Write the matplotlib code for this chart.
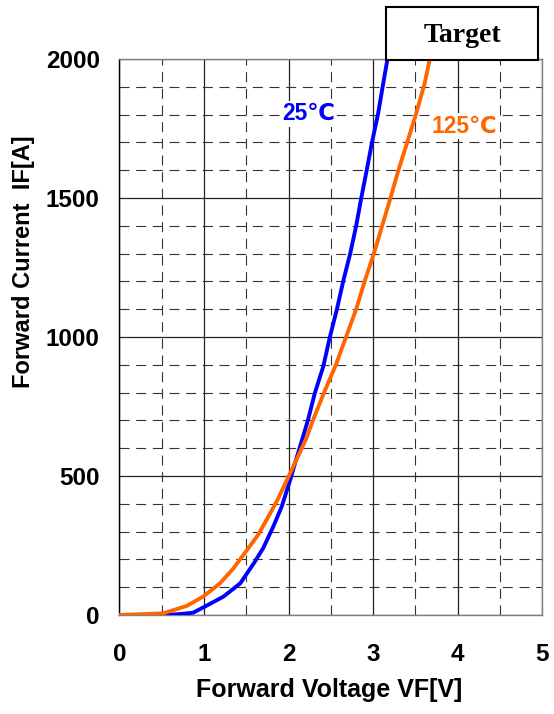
import numpy as np
import matplotlib
matplotlib.use("Agg")
import matplotlib.pyplot as plt
from matplotlib.ticker import MultipleLocator
from matplotlib.patches import Rectangle

plt.rcParams['font.family'] = ['Liberation Sans', 'DejaVu Sans']

# Forward characteristics
vf_25 = [0.0, 0.52, 0.70, 0.87, 1.01, 1.23, 1.43, 1.59, 1.70, 1.82, 1.92, 2.02, 2.10,
         2.23, 2.31, 2.41, 2.49, 2.57, 2.65, 2.73, 2.80, 2.86, 2.925, 2.985, 3.06, 3.12, 3.17]
if_25 = [0, 0, 3, 8, 30, 66, 114, 186, 240, 318, 390, 486, 569,
         701, 797, 893, 1001, 1097, 1205, 1301, 1400, 1500, 1601, 1697, 1805, 1913, 2000]

vf_125 = [0.0, 0.52, 0.80, 0.99, 1.19, 1.35, 1.51, 1.64, 1.74, 1.86, 2.02, 2.11, 2.21,
          2.29, 2.42, 2.56, 2.68, 2.80, 2.905, 3.01, 3.11, 3.21, 3.30, 3.40, 3.51, 3.61, 3.67]
if_125 = [0, 6, 33, 66, 114, 168, 234, 288, 342, 408, 510, 569, 635,
          701, 800, 900, 1000, 1100, 1205, 1301, 1403, 1505, 1601, 1697, 1805, 1913, 2000]

x_ticks = [0, 1, 2, 3, 4, 5]
y_ticks = [0, 500, 1000, 1500, 2000]

W, H = 554, 714
fig = plt.figure(figsize=(W / 100, H / 100), dpi=100)
ax = fig.add_axes([119.3 / W, 1 - 615 / H, 423 / W, 556 / H])

# grid: dashed minor, solid major
ax.xaxis.set_minor_locator(MultipleLocator(0.5))
ax.yaxis.set_minor_locator(MultipleLocator(100))
ax.grid(True, which='minor', linestyle=(0, (9, 6)), color='#333333', linewidth=0.8)
ax.grid(True, which='major', linestyle='-', color='#222222', linewidth=0.9)

ax.plot(vf_25, if_25, color='#0000ff', linewidth=2.8, zorder=3)
ax.plot(vf_125, if_125, color='#ff6600', linewidth=2.8, zorder=4)

ax.set_xlim(0, 5)
ax.set_ylim(0, 2000)
ax.set_xticks(x_ticks)
ax.set_yticks(y_ticks)
ax.tick_params(axis='both', which='both', direction='in', length=0, labelsize=17.5)
ax.tick_params(axis='x', pad=20)
ax.tick_params(axis='y', pad=14)
for lbl in ax.get_xticklabels() + ax.get_yticklabels():
    lbl.set_fontweight('bold')

for side in ['top', 'right', 'bottom']:
    ax.spines[side].set_color('#808080')
ax.spines['left'].set_color('black')
for s in ax.spines.values():
    s.set_linewidth(1.0)

fig.text(329 / W, 1 - 690 / H, "Forward Voltage VF[V]", fontsize=18, fontweight='bold',
         ha='center', va='center')
fig.text(24 / W, 1 - 262 / H, "Forward Current  IF[A]", fontsize=17, fontweight='bold',
         ha='center', va='center', rotation=90)

ax.text(2.24, 1803, "25℃", color='#0000ff', fontsize=16.5, fontweight='bold',
        ha='center', va='center', zorder=5,
        bbox=dict(facecolor='white', edgecolor='none', pad=1))
ax.text(4.08, 1759, "125℃", color='#ff6600', fontsize=16.5, fontweight='bold',
        ha='center', va='center', zorder=5,
        bbox=dict(facecolor='white', edgecolor='none', pad=1))

# Target box above the plot
fig.patches.append(Rectangle((386 / W, 1 - 60 / H), 152 / W, 53 / H,
                             transform=fig.transFigure, facecolor='white',
                             edgecolor='black', linewidth=1.5, zorder=10))
fig.text(462 / W, 1 - 35 / H, "Target", fontsize=20, fontweight='bold',
         family='Liberation Serif', ha='center', va='center', zorder=11)

plt.savefig("out.png", dpi=100)
plt.close()
